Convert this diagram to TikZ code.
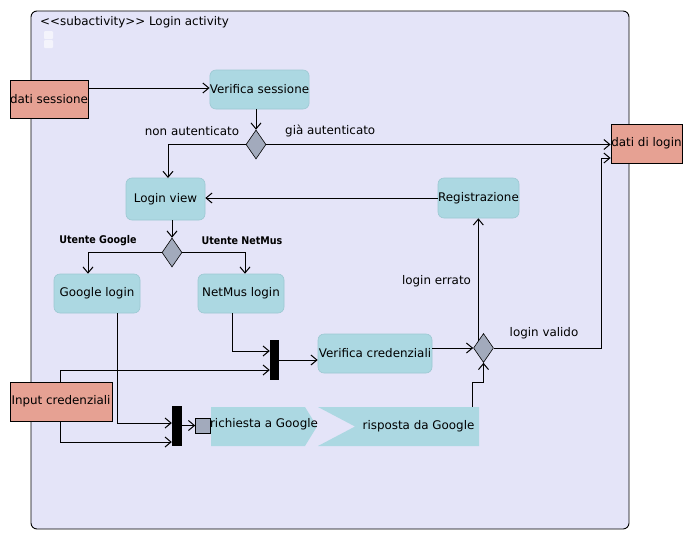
\documentclass[tikz,border=0pt]{standalone}
\usepackage{fontspec}
\setmainfont{DejaVu Sans}
\newfontfamily\condfont{DejaVu Sans Condensed}
\usetikzlibrary{arrows.meta,shapes.geometric,calc}
\definecolor{framefill}{HTML}{E4E4F8}
\definecolor{actfill}{HTML}{ACD8E2}
\definecolor{actdraw}{HTML}{9CC8D2}
\definecolor{objfill}{HTML}{E6A193}
\definecolor{decfill}{HTML}{A2AABC}
\tikzset{
  x=1pt,y=-1pt,
  arr/.style={-{Straight Barb[length=6pt,width=10pt,line width=1pt]},line width=0.9pt},
  txt/.style={font=\fontsize{11.9}{13}\selectfont},
  action/.style={rectangle,rounded corners=6pt,fill=actfill,draw=actdraw,line width=0.6pt,txt,inner sep=0pt},
  objbox/.style={rectangle,fill=objfill,draw=black,line width=0.8pt,txt,inner sep=0pt},
  decision/.style={diamond,fill=decfill,draw=black,line width=0.6pt,minimum width=20pt,minimum height=29pt,inner sep=0pt,aspect=0.7},
  bar/.style={rectangle,fill=black,draw=none,inner sep=0pt},
  lbl/.style={txt,inner sep=0pt},
  blbl/.style={font=\condfont\bfseries\fontsize{10.6}{12}\selectfont,inner sep=0pt},
}
\begin{document}
\begin{tikzpicture}
\useasboundingbox (0,0) rectangle (693,541);
% frame
\draw[fill=framefill,line width=0.9pt,rounded corners=6pt] (31,11) rectangle (629,529);
\node[anchor=west,inner sep=0pt,txt] (title) at (40,22) {<{}<subactivity>{}> Login activity};
\fill[white,opacity=0.6,rounded corners=1pt] (44,31) rectangle (53,39);
\fill[white,opacity=0.6,rounded corners=1pt] (44,40) rectangle (53,48);

% nodes
\node[objbox,minimum width=78pt,minimum height=38pt] (ds) at (49,99) {dati sessione};
\node[action,minimum width=99pt,minimum height=39pt] (vs) at (259.5,89.5) {Verifica sessione};
\node[decision] (d1) at (256,144.5) {};
\node[objbox,minimum width=71pt,minimum height=39pt] (dl) at (646.5,143.5) {dati di login};
\node[action,minimum width=79pt,minimum height=42pt] (lv) at (165.5,199) {Login view};
\node[action,minimum width=81pt,minimum height=40pt] (reg) at (478.5,198) {Registrazione};
\node[decision] (d2) at (172,252.5) {};
\node[action,minimum width=86pt,minimum height=39pt] (gl) at (97,293.5) {Google login};
\node[action,minimum width=86pt,minimum height=39pt] (nl) at (241,293.5) {NetMus login};
\node[bar,minimum width=9pt,minimum height=40pt] (b1) at (274.5,360) {};
\node[bar,minimum width=10pt,minimum height=40pt] (b2) at (177,426) {};
\node[objbox,minimum width=102pt,minimum height=39pt] (ic) at (61,401.5) {Input credenziali};
\node[action,minimum width=114pt,minimum height=39pt] (vc) at (375,353.5) {Verifica credenziali};
\node[decision] (d3) at (483.5,348) {};
\node[rectangle,fill=decfill,draw=black,line width=0.6pt,minimum width=15pt,minimum height=15pt,inner sep=0pt] (pin) at (203,425.5) {};

% send signal
\fill[actfill] (211,407) -- (305,407) -- (317,426.5) -- (305,446) -- (211,446) -- cycle;
\node[txt,inner sep=0pt] (rg) at (264,424.5) {richiesta a Google};
% accept event
\fill[actfill] (318,407) -- (479,407) -- (479,446) -- (318,446) -- (355,426.5) -- cycle;
\coordinate (rdg) at (472,407);
\node[txt,inner sep=0pt] (rdgt) at (418.5,426.5) {risposta da Google};

% connectors
\draw[arr] (ds.east |- 0,88) -- (vs.west |- 0,88);
\draw[arr] (vs.south -| d1) -- (d1.north);
\draw[arr] (d1.west) -| (168,178);
\draw[arr] (d1.east) -- (dl.west |- d1.east);
\draw[arr] (reg.west) -- (lv.east |- reg.west);
\draw[arr] (lv.south -| d2) -- (d2.north);
\draw[arr] (d2.west) -| (gl.north -| 88,0);
\draw[arr] (d2.east) -| (nl.north -| 245,0);
\draw[arr] (gl.south -| 117,0) |- (b2.west |- 0,423);
\draw[arr] (nl.south -| 232,0) |- (b1.west |- 0,351);
\draw[arr] (ic.north -| 60,0) |- (b1.west |- 0,370);
\draw[arr] (ic.south -| 60,0) |- (b2.west |- 0,442);
\draw[arr] (b1.east) -- (vc.west |- b1.east);
\draw[arr] (b2.east |- pin) -- (pin.west);
\draw[arr] (vc.east |- d3) -- (d3.west);
\draw[arr] (rdg) |- (483.5,382) -- (d3.south);
\draw[arr] (d3.north west) -- (d3.north west |- reg.south);
\draw[arr] (d3.east) -| (601,158) -- (dl.west |- 0,158);

% labels
\node[lbl] (l1) at (192,131) {non autenticato};
\node[lbl,anchor=west] (l2) at (285,131) {già autenticato};
\node[blbl] (l3) at (98,241) {Utente Google};
\node[blbl] (l4) at (242,241) {Utente NetMus};
\node[lbl] (l5) at (436.5,281) {login errato};
\node[lbl] (l6) at (544,333) {login valido};
\end{tikzpicture}
\end{document}
